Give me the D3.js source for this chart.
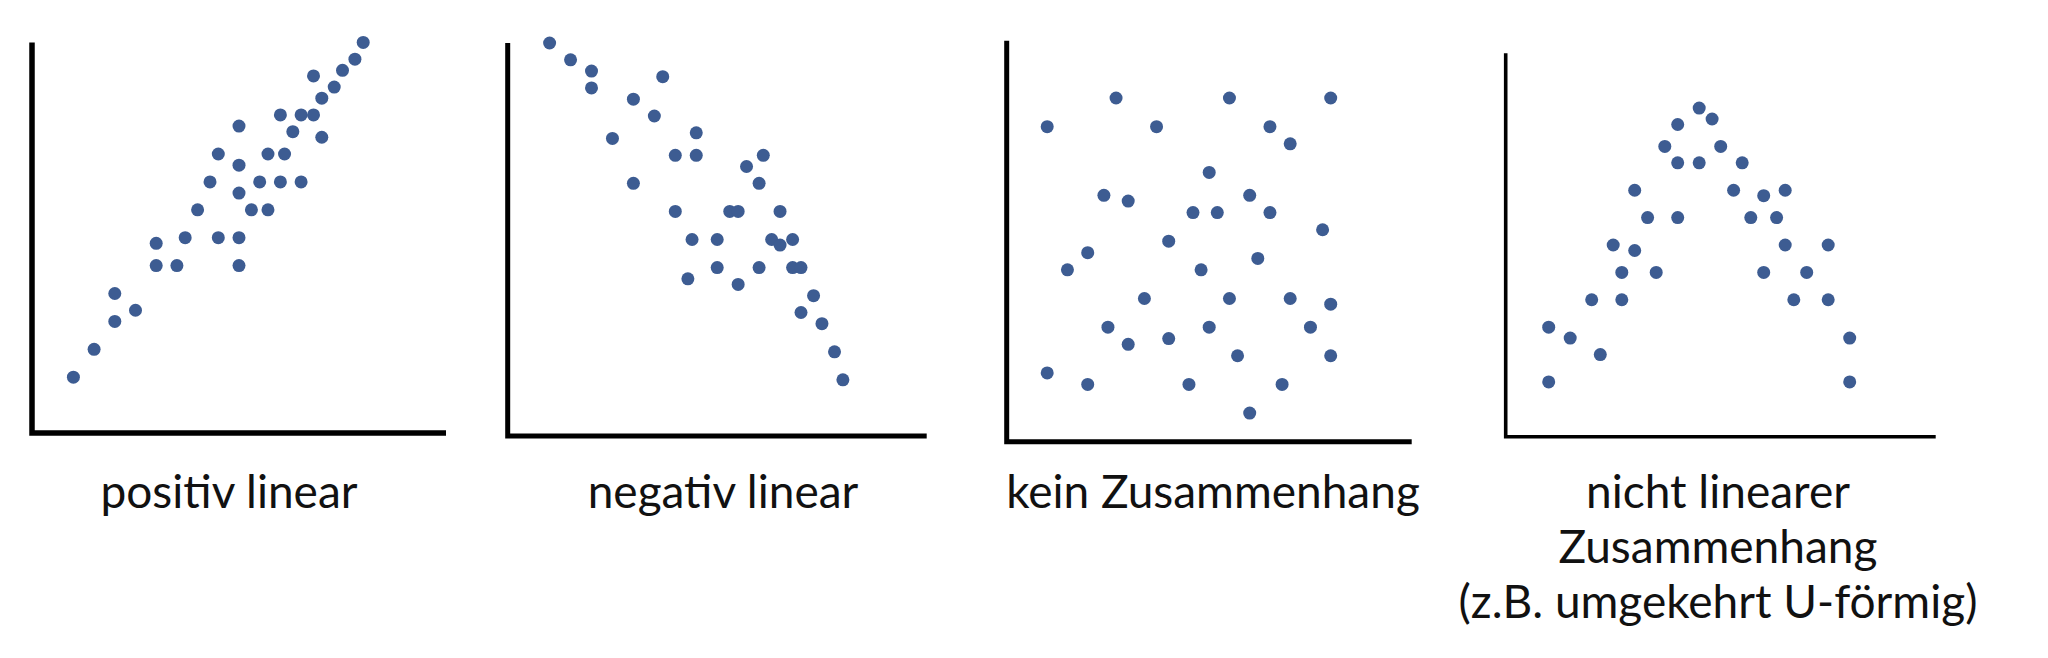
<!DOCTYPE html>
<html>
<head>
<meta charset="utf-8">
<script src="https://cdn.jsdelivr.net/npm/d3@7"></script>
<style>
  html, body { margin: 0; padding: 0; background: #fff; }
  svg { display: block; }
</style>
</head>
<body>
<svg id="chart" width="2048" height="658"></svg>
<script>
// ---- data (x in 0..20, y in 0..14) ----
const xDomain = [0, 20];
const yDomain = [0, 14];

const positivLinear = [
  [2,2],[3,3],[4,4],[4,5],[5,4.4],[6,6],[6,6.8],[7,6],[7.4,7],[8,8],[8.6,9],[9,10],
  [9,7],[10,7],[10,6],[10,8.6],[10,9.6],[10,11],[10.6,8],[11,9],[11.4,8],[11.4,10],
  [12,9],[12.2,10],[12,11.4],[12.6,10.8],[13,11.4],[13,9],[13.6,11.4],[14,10.6],
  [14,12],[13.6,12.8],[14.6,12.4],[15,13],[15.6,13.4],[16,14]
];

const negativLinear = [
  [2,14],[3,13.4],[4,13],[4,12.4],[7.4,12.8],[6,12],[7,11.4],[5,10.6],[9,10.8],[8,10],
  [9,10],[6,9],[12.2,10],[11.4,9.6],[12,9],[8,8],[10.6,8],[11,8],[13,8],[8.8,7],[10,7],
  [12.6,7],[13,6.8],[13.6,7],[10,6],[12,6],[13.6,6],[14,6],[8.6,5.6],[11,5.4],[14.6,5],
  [14,4.4],[15,4],[15.6,3],[16,2]
];

const keinZusammenhang = [
  [2,11],[5.4,12],[11,12],[16,12],[7.4,11],[13,11],[14,10.4],[10,9.4],[4.8,8.6],[6,8.4],
  [12,8.6],[9.2,8],[10.4,8],[13,8],[15.6,7.4],[8,7],[4,6.6],[3,6],[12.4,6.4],[9.6,6],
  [6.8,5],[11,5],[14,5],[16,4.8],[5,4],[10,4],[15,4],[6,3.4],[8,3.6],[11.4,3],[16,3],
  [2,2.4],[4,2],[9,2],[13.6,2],[12,1]
];

const nichtLinear = [
  [2,4],[2,2],[3,3.6],[4.4,3],[4,5],[5.4,5],[5.4,6],[5,7],[6,6.8],[7,6],[6.6,8],[8,8],
  [6,9],[8,10],[9,10],[7.4,10.6],[8,11.4],[9,12],[9.6,11.6],[10,10.6],[11,10],[10.6,9],
  [12,8.8],[13,9],[11.4,8],[12.6,8],[13,7],[15,7],[12,6],[14,6],[13.4,5],[15,5],
  [16,3.6],[16,2]
];

const labels = [
  ["positiv linear"],
  ["negativ linear"],
  ["kein Zusammenhang"],
  ["nicht linearer", "Zusammenhang", "(z.B. umgekehrt U-förmig)"]
];

// ---- layout ----
const panels = [
  { data: positivLinear,    x0: 32,     x1: 446,    yB: 433,   yT: 42.4, sw: 5.5, lx: 229 },
  { data: negativLinear,    x0: 507.7,  x1: 926.7,  yB: 436,   yT: 43,   sw: 5,   lx: 723 },
  { data: keinZusammenhang, x0: 1006.7, x1: 1411.7, yB: 441.7, yT: 40.7, sw: 5,   lx: 1213 },
  { data: nichtLinear,      x0: 1505.7, x1: 1935.7, yB: 436.7, yT: 53.3, sw: 3.6, lx: 1718 }
];

const dotColor = "#3d5c92";
const svg = d3.select("#chart");

panels.forEach((p, i) => {
  const x = d3.scaleLinear().domain(xDomain).range([p.x0, p.x1]);
  const y = d3.scaleLinear().domain(yDomain).range([p.yB, p.yT]);
  const g = svg.append("g");

  g.append("path")
    .attr("d", d3.line()([
      [x(xDomain[0]), y(yDomain[1])],
      [x(xDomain[0]), y(yDomain[0])],
      [x(xDomain[1]), y(yDomain[0])]
    ]))
    .attr("fill", "none")
    .attr("stroke", "#000")
    .attr("stroke-width", p.sw)
    .attr("stroke-linejoin", "miter");

  g.selectAll("circle")
    .data(p.data)
    .join("circle")
    .attr("cx", d => x(d[0]))
    .attr("cy", d => y(d[1]))
    .attr("r", 6.5)
    .attr("fill", dotColor);

  const t = g.append("text")
    .attr("text-anchor", "middle")
    .attr("font-family", "Lato, 'Noto Sans', sans-serif")
    .attr("font-size", 46)
    .attr("fill", "#111");
  labels[i].forEach((line, k) => {
    t.append("tspan")
      .attr("x", p.lx)
      .attr("y", 508 + k * 55)
      .text(line);
  });
});
</script>
</body>
</html>
